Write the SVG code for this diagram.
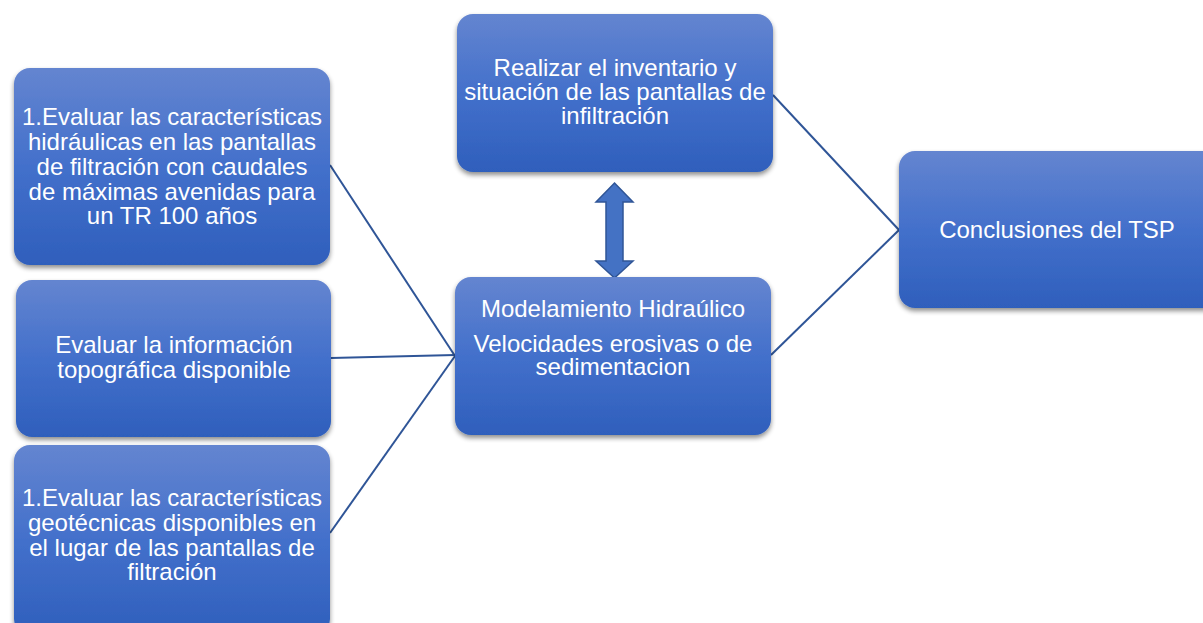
<svg xmlns="http://www.w3.org/2000/svg" width="1203" height="623" viewBox="0 0 1203 623">
<defs>
<linearGradient id="g" x1="0" y1="0" x2="0" y2="1">
<stop offset="0" stop-color="#6485d0"/>
<stop offset="0.5" stop-color="#4370cb"/>
<stop offset="1" stop-color="#2f5fbc"/>
</linearGradient>
<filter id="sh" x="-10%" y="-10%" width="120%" height="130%">
<feGaussianBlur in="SourceAlpha" stdDeviation="2.5"/>
<feOffset dx="0" dy="3" result="b"/>
<feComponentTransfer><feFuncA type="linear" slope="0.45"/></feComponentTransfer>
<feMerge><feMergeNode/><feMergeNode in="SourceGraphic"/></feMerge>
</filter>
</defs>
<style>
.box{fill:url(#g);filter:url(#sh);}
.t{fill:#ffffff;font-family:"Liberation Sans",Arial,sans-serif;font-size:24px;text-anchor:middle;}
.c{stroke:#2f5597;stroke-width:2;fill:none;}
</style>
<rect width="1203" height="623" fill="#ffffff"/>
<g id="connectors">
<line class="c" x1="330" y1="165" x2="455" y2="356"/>
<line class="c" x1="331" y1="358" x2="455" y2="355"/>
<line class="c" x1="330" y1="533" x2="455" y2="356"/>
<line class="c" x1="773" y1="95" x2="899" y2="230"/>
<line class="c" x1="771" y1="355" x2="899" y2="230"/>
<polygon points="614.5,183 633,202 623,202 623,261 633,261 614.5,278 596,261 606,261 606,202 596,202" fill="#4472c4" stroke="#2f5597" stroke-width="1.5"/>
</g>
<g id="n1">
<rect class="box" x="14" y="68" width="316" height="197" rx="16"/>
<text class="t" x="172" y="125">1.Evaluar las características</text>
<text class="t" x="172" y="150">hidráulicas en las pantallas</text>
<text class="t" x="172" y="175">de filtración con caudales</text>
<text class="t" x="172" y="200">de máximas avenidas para</text>
<text class="t" x="172" y="224">un TR 100 años</text>
</g>
<g id="n2">
<rect class="box" x="16" y="280" width="315" height="157" rx="16"/>
<text class="t" x="174" y="353">Evaluar la información</text>
<text class="t" x="174" y="378">topográfica disponible</text>
</g>
<g id="n3">
<rect class="box" x="14" y="445" width="316" height="190" rx="16"/>
<text class="t" x="172" y="506">1.Evaluar las características</text>
<text class="t" x="172" y="531">geotécnicas disponibles en</text>
<text class="t" x="172" y="556">el lugar de las pantallas de</text>
<text class="t" x="172" y="580">filtración</text>
</g>
<g id="n4">
<rect class="box" x="457" y="14" width="316" height="158" rx="16"/>
<text class="t" x="615" y="76">Realizar el inventario y</text>
<text class="t" x="615" y="100">situación de las pantallas de</text>
<text class="t" x="615" y="124">infiltración</text>
</g>
<g id="n5">
<rect class="box" x="455" y="277" width="316" height="158" rx="16"/>
<text class="t" x="613" y="317">Modelamiento Hidraúlico</text>
<text class="t" x="613" y="352">Velocidades erosivas o de</text>
<text class="t" x="613" y="375">sedimentacion</text>
</g>
<g id="n6">
<rect class="box" x="899" y="151" width="320" height="157" rx="16"/>
<text class="t" x="1057" y="238">Conclusiones del TSP</text>
</g>
</svg>
